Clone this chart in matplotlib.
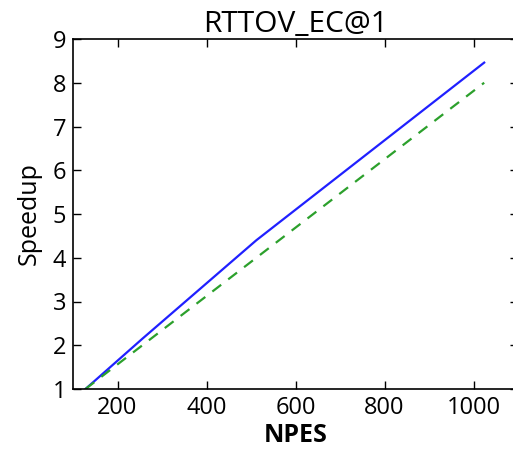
import matplotlib
matplotlib.use("Agg")
import matplotlib.pyplot as plt

npes = [128, 256, 512, 1024]
speedup = [1.0, 2.15, 4.40, 8.46]
ideal_npes = [128, 1024]
ideal_speedup = [1.0, 8.0]
xticks = [200, 400, 600, 800, 1000]
yticks = [1, 2, 3, 4, 5, 6, 7, 8, 9]

plt.rcParams['font.family'] = ['Open Sans', 'DejaVu Sans']

fig = plt.figure(figsize=(5.13, 4.53), dpi=100)
ax = fig.add_axes([73/513, 64/453, 445/513, 350/453])

ax.plot(npes, speedup, color='#2020ff', lw=1.6)
ax.plot(ideal_npes, ideal_speedup, color='#2ca02c', lw=1.6, dashes=(5, 4))

ax.set_xlim(100, 1100)
ax.set_ylim(1, 9)
ax.set_xticks(xticks)
ax.set_yticks(yticks)
ax.tick_params(direction='in', top=True, right=True, length=6, width=1,
               labelsize=17, pad=5)
for s in ax.spines.values():
    s.set_linewidth(1.2)

ax.set_title('RTTOV_EC@1', fontsize=21.5, pad=5)
ax.set_xlabel('NPES', fontsize=18, fontweight='bold', labelpad=2)
ax.set_ylabel('Speedup', fontsize=18, labelpad=8)

fig.savefig('out.png', dpi=100)
